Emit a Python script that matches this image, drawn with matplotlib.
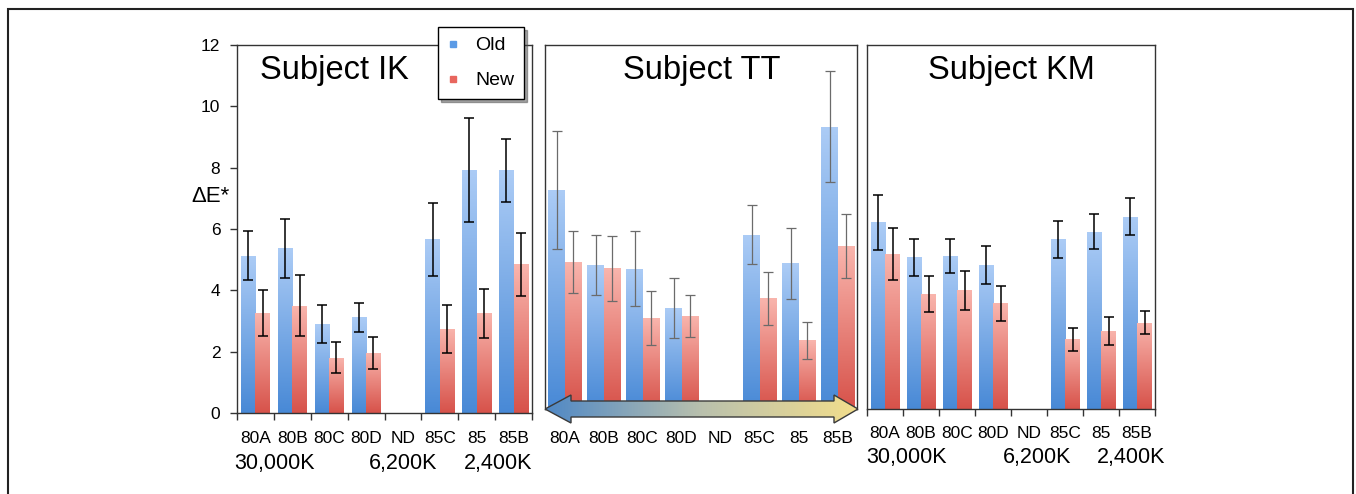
import matplotlib
matplotlib.use('Agg')

import numpy as np
from matplotlib import pyplot as plt
from matplotlib.colors import LinearSegmentedColormap
from matplotlib.lines import Line2D
from matplotlib.patches import Polygon, Rectangle
import matplotlib.transforms as mtransforms

plt.rcParams['font.family'] = ['Liberation Sans', 'DejaVu Sans']

categories = ['80A', '80B', '80C', '80D', 'ND', '85C', '85', '85B']
temp_labels = ['30,000K', '6,200K', '2,400K']

# Subject IK
ik_old = [5.13, 5.37, 2.90, 3.12, 0.0, 5.66, 7.93, 7.92]
ik_old_err = [0.79, 0.96, 0.62, 0.48, 0.0, 1.18, 1.70, 1.03]
ik_new = [3.26, 3.50, 1.80, 1.95, 0.0, 2.74, 3.25, 4.85]
ik_new_err = [0.76, 1.00, 0.50, 0.53, 0.0, 0.77, 0.80, 1.02]

# Subject TT
tt_old = [7.22, 4.74, 4.63, 3.32, 0.0, 5.75, 4.80, 9.31]
tt_old_err = [1.94, 0.98, 1.23, 0.99, 0.0, 0.96, 1.16, 1.82]
tt_new = [4.86, 4.64, 3.00, 3.07, 0.0, 3.65, 2.27, 5.37]
tt_new_err = [1.02, 1.07, 0.90, 0.70, 0.0, 0.87, 0.61, 1.06]

# Subject KM
km_old = [6.16, 5.00, 5.04, 4.75, 0.0, 5.59, 5.84, 6.34]
km_old_err = [0.91, 0.62, 0.56, 0.62, 0.0, 0.62, 0.58, 0.60]
km_new = [5.11, 3.79, 3.92, 3.48, 0.0, 2.30, 2.58, 2.85]
km_new_err = [0.87, 0.58, 0.64, 0.58, 0.0, 0.38, 0.46, 0.39]

blue_cmap = LinearSegmentedColormap.from_list('blue', ['#4889d6', '#acccf6'])
red_cmap = LinearSegmentedColormap.from_list('red', ['#d7524a', '#f9b5ad'])
arrow_cmap = LinearSegmentedColormap.from_list('arrow', ['#4f88c6', '#b9c0ad', '#f3de8c'])
grad = np.linspace(0, 1, 256).reshape(-1, 1)

W, H = 1356, 494


def px_axes(left, top, right, bottom):
    return [left / W, 1 - bottom / H, (right - left) / W, (bottom - top) / H]


def draw_panel(ax, old, old_err, new, new_err, width, offset, err_color, err_lw):
    x = np.arange(len(categories))
    old_x = x + offset + width / 2
    new_x = x + offset + width * 1.5
    bars_old = ax.bar(old_x, old, width, facecolor='none', edgecolor='none')
    bars_new = ax.bar(new_x, new, width, facecolor='none', edgecolor='none')
    for bars, cmap in ((bars_old, blue_cmap), (bars_new, red_cmap)):
        for b in bars:
            if b.get_height() <= 0:
                continue
            im = ax.imshow(grad, cmap=cmap, aspect='auto', origin='lower',
                           extent=[b.get_x(), b.get_x() + b.get_width(), 0, b.get_height()],
                           zorder=1)
            im.set_clip_path(b)
    for xs, vals, errs in ((old_x, old, old_err), (new_x, new, new_err)):
        for xi, v, e in zip(xs, vals, errs):
            if e <= 0:
                continue
            ax.errorbar(xi, v, yerr=e, fmt='none', ecolor=err_color, elinewidth=err_lw,
                        capsize=3.8, capthick=err_lw, zorder=3)
    ax.set_xlim(0, len(categories))
    ax.set_ylim(0, 12)
    ax.set_xticks(np.arange(len(categories) + 1))
    ax.set_xticklabels([])
    ax.set_xticks(x + 0.5, minor=True)
    ax.set_xticklabels(categories, minor=True, fontsize=12.5)
    ax.tick_params(axis='x', which='major', direction='out', length=5, width=1, color='#333333')
    ax.tick_params(axis='x', which='minor', length=0, pad=13)
    for s in ax.spines.values():
        s.set_color('#333333')
        s.set_linewidth(1.0)


fig = plt.figure(figsize=(W / 100, H / 100), dpi=100)

ax1 = fig.add_axes(px_axes(237, 45, 532, 413))
ax2 = fig.add_axes(px_axes(545, 45, 857, 409))
ax3 = fig.add_axes(px_axes(867, 45, 1155, 409))

draw_panel(ax1, ik_old, ik_old_err, ik_new, ik_new_err, 0.39, 0.11, 'black', 1.1)
draw_panel(ax2, tt_old, tt_old_err, tt_new, tt_new_err, 0.43, 0.08, '#6b6b6b', 0.9)
draw_panel(ax3, km_old, km_old_err, km_new, km_new_err, 0.40, 0.11, 'black', 1.1)

ax1.set_yticks(np.arange(0, 13, 2))
ax1.tick_params(axis='y', direction='out', length=5, width=1, color='#333333', pad=7, labelsize=12.5)
for ax in (ax2, ax3):
    ax.set_yticks([])
ax2.tick_params(axis='x', which='major', length=0)
ax2.tick_params(axis='x', which='minor', pad=16)
ax3.tick_params(axis='x', which='minor', pad=12)

ax1.text(0.33, 0.93, 'Subject IK', transform=ax1.transAxes, ha='center', va='center', fontsize=23.5)
ax2.text(0.503, 0.93, 'Subject TT', transform=ax2.transAxes, ha='center', va='center', fontsize=23.5)
ax3.text(0.50, 0.93, 'Subject KM', transform=ax3.transAxes, ha='center', va='center', fontsize=23.5)

fig.text(210 / W, 1 - 196 / H, 'ΔE*', ha='center', va='center', fontsize=16)

# colour temperature labels under the axes
for ax, xs, ypx in ((ax1, [1.03, 4.5, 7.07], 463), (ax3, [1.11, 4.72, 7.33], 457)):
    trans = mtransforms.blended_transform_factory(ax.transData, fig.transFigure)
    for xi, lab in zip(xs, temp_labels):
        ax.text(xi, 1 - ypx / H, lab, transform=trans, ha='center', va='center', fontsize=15.5)

# legend
handles = [Line2D([], [], linestyle='none', marker='s', markersize=5, color='#5b9be6', label='Old'),
           Line2D([], [], linestyle='none', marker='s', markersize=5, color='#e8665e', label='New')]
leg = fig.legend(handles=handles, loc='upper left', bbox_to_anchor=(438 / W, 1 - 27 / H),
                 frameon=True, fancybox=False, shadow=True, edgecolor='black', framealpha=1,
                 fontsize=14, handlelength=0.5, handletextpad=0.9, labelspacing=0.9,
                 borderpad=0.5, borderaxespad=0)
leg.get_frame().set_linewidth(1.0)

# gradient double arrow along the bottom of the TT panel
arrow_ax = fig.add_axes(px_axes(545, 393, 858, 425))
arrow_ax.set_xlim(0, 313)
arrow_ax.set_ylim(-16, 16)
arrow_ax.axis('off')
pts = [(0, 0), (26, 14), (26, 8), (289, 8), (289, 14), (313, 0),
       (289, -14), (289, -8), (26, -8), (26, -14)]
arrow_shape = Polygon(pts, closed=True, facecolor='none', edgecolor='#3a3a3a', linewidth=1.0, zorder=3)
arrow_ax.add_patch(arrow_shape)
im = arrow_ax.imshow(grad.T, cmap=arrow_cmap, aspect='auto', extent=[0, 313, -16, 16], zorder=2)
im.set_clip_path(arrow_shape)
arrow_ax.set_xlim(0, 313)
arrow_ax.set_ylim(-16, 16)

# outer frame
fig.patches.append(Rectangle((7.5 / W, -0.2), (1352.5 - 7.5) / W, 1.2 - 9 / H,
                             transform=fig.transFigure, fill=False, edgecolor='#222222',
                             linewidth=1.5, clip_on=False))

fig.savefig('out.png', dpi=100)
